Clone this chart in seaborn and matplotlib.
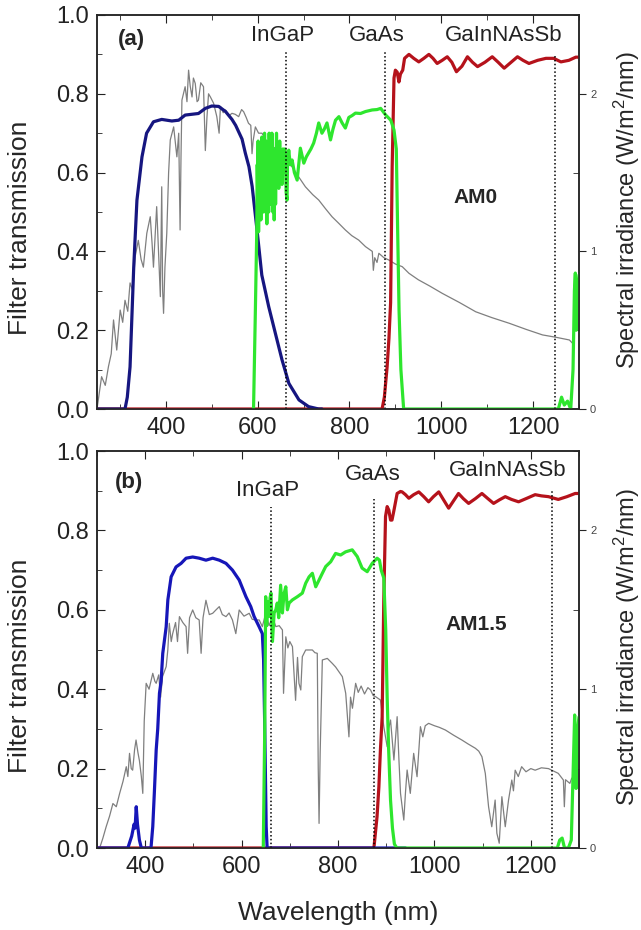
import matplotlib
matplotlib.use("Agg")
import matplotlib.pyplot as plt
import seaborn as sns
from matplotlib.ticker import MultipleLocator, FormatStrFormatter

sns.set_style("ticks")
plt.rcParams["font.family"] = ["Liberation Sans", "DejaVu Sans"]
plt.rcParams["mathtext.default"] = "regular"

# -------------------------
# PANEL (a) - AM0
# -------------------------

blue_a_wl = [250, 311, 316, 322, 330, 337, 348, 358, 373, 391,
             413, 428, 442, 471, 486, 500, 515, 530, 544, 552,
             566, 573, 581, 588, 599, 609, 624, 639, 653, 668,
             690, 711, 733, 740]
blue_a_t = [0, 0, 0.03, 0.107, 0.36, 0.53, 0.64, 0.70, 0.729, 0.735,
            0.731, 0.733, 0.746, 0.75, 0.763, 0.769, 0.768, 0.755, 0.735, 0.72,
            0.685, 0.65, 0.615, 0.565, 0.45, 0.34, 0.26, 0.19, 0.125, 0.065,
            0.023, 0.006, 0, 0]

green_a_wl = [591, 595, 598, 599, 600, 601, 602, 603, 604, 606,
              607, 609, 610, 612, 613, 615, 617, 618, 620, 622,
              624, 625, 627, 628, 630, 631, 633, 635, 636, 638,
              639, 641, 643, 644, 646, 648, 650, 652, 653, 655,
              657, 659, 660.5, 662, 664, 665, 667.7, 671, 675, 680,
              686, 693, 700.5, 706, 711, 716, 722, 728, 733, 740,
              745, 751, 758.7, 764, 769.6, 777, 784, 791, 798.6, 806,
              813, 824, 835, 849.5, 860, 868, 879, 890, 897, 902,
              905, 908, 912, 918, 1255, 1262, 1268, 1275, 1282, 1287,
              1290, 1292, 1294, 1296, 1300]
green_a_t = [0, 0.25, 0.45, 0.62, 0.55, 0.68, 0.45, 0.60, 0.50, 0.66,
             0.48, 0.69, 0.52, 0.66, 0.50, 0.70, 0.55, 0.68, 0.47, 0.65,
             0.50, 0.70, 0.52, 0.68, 0.55, 0.70, 0.50, 0.64, 0.48, 0.66,
             0.52, 0.70, 0.58, 0.67, 0.56, 0.68, 0.58, 0.64, 0.57, 0.66,
             0.60, 0.66, 0.63, 0.55, 0.53, 0.62, 0.657, 0.62, 0.632, 0.60,
             0.581, 0.662, 0.624, 0.64, 0.65, 0.66, 0.675, 0.70, 0.726, 0.70,
             0.71, 0.726, 0.683, 0.71, 0.733, 0.742, 0.726, 0.713, 0.74, 0.745,
             0.751, 0.75, 0.755, 0.759, 0.76, 0.763, 0.746, 0.733, 0.708, 0.66,
             0.45, 0.25, 0.10, 0.0, 0, 0.03, 0.01, 0.02, 0.0, 0.1,
             0.3, 0.345, 0.2, 0.3, 0.34]

red_a_wl = [250, 871, 876, 882, 886, 889.6, 893, 897, 900, 904,
            907.7, 911, 916, 920, 929.6, 940, 951, 962, 973, 982,
            991, 1002, 1013, 1023, 1033, 1045, 1057, 1068, 1079, 1095,
            1111, 1124, 1137, 1152, 1166, 1178, 1191, 1210, 1228, 1245,
            1260.6, 1278, 1293, 1300]
red_a_t = [0, 0, 0.03, 0.107, 0.18, 0.27, 0.615, 0.84, 0.86, 0.855,
           0.83, 0.85, 0.86, 0.89, 0.90, 0.89, 0.881, 0.89, 0.90, 0.89,
           0.877, 0.885, 0.894, 0.88, 0.856, 0.87, 0.894, 0.88, 0.869, 0.88,
           0.894, 0.88, 0.865, 0.88, 0.894, 0.885, 0.877, 0.885, 0.89, 0.89,
           0.881, 0.885, 0.893, 0.893]

am0_wl = [250, 260, 268, 275, 281, 286, 293, 300.5, 306, 311,
          317, 322, 328, 333, 340, 346, 351, 358.5, 366, 370,
          373, 380, 384, 388, 391, 393, 395, 398, 402, 406,
          409.6, 417, 424, 428, 431, 433, 435, 442, 446, 449.5,
          453, 457, 460, 464, 468, 471, 476, 482, 486, 489.5,
          493, 497, 504, 511, 516, 519, 525, 530, 537, 544,
          551, 558.6, 565, 569.5, 575, 580, 585, 587.7, 590, 595,
          602, 609.5, 617, 624, 635, 646, 653, 656, 660.5, 667,
          675, 690, 704, 720, 733, 748, 762, 776, 791, 805,
          820, 835, 849.7, 852, 855, 860, 864, 875, 886, 900,
          915, 929.6, 950, 975, 1002, 1040, 1075, 1110, 1148, 1185,
          1220.6, 1250, 1279, 1286, 1290]
am0_irr = [0.0, 0.205, 0.15, 0.27, 0.35, 0.565, 0.374, 0.628, 0.55, 0.69,
           0.62, 0.80, 0.75, 0.966, 1.07, 0.95, 0.90, 1.115, 1.22, 1.05,
           0.90, 1.284, 1.0, 0.713, 1.41, 0.75, 0.607, 0.9, 1.115, 1.5,
           1.707, 1.79, 1.6, 1.75, 1.136, 1.6, 1.96, 2.045, 1.95, 2.15,
           2.05, 1.98, 2.1, 2.066, 1.95, 1.96, 2.07, 2.045, 1.64, 1.85,
           2.0, 1.98, 1.94, 1.855, 1.75, 1.92, 1.88, 1.897, 1.86, 1.876,
           1.87, 1.855, 1.9, 1.886, 1.85, 1.813, 1.8, 1.62, 1.7, 1.79,
           1.75, 1.75, 1.707, 1.686, 1.66, 1.643, 1.62, 1.5, 1.58, 1.56,
           1.537, 1.47, 1.41, 1.36, 1.326, 1.27, 1.22, 1.18, 1.136, 1.10,
           1.072, 1.03, 1.00, 0.88, 0.96, 0.93, 0.988, 0.96, 0.945, 0.92,
           0.903, 0.861, 0.82, 0.78, 0.734, 0.675, 0.617, 0.58, 0.544, 0.505,
           0.47, 0.455, 0.438, 0.417, 0.43]

junction_a_wl = [662, 877, 1248]
junction_a_top = [0.91, 0.91, 0.90]

# -------------------------
# PANEL (b) - AM1.5
# -------------------------

blue_b_wl = [300, 364, 372, 377, 379, 381.4, 384, 388, 392, 412,
             415.7, 419, 422.8, 426, 429.6, 433, 436.4, 443.5, 447, 453.8,
             464, 474.5, 484.8, 498.5, 512, 526, 540, 553.7, 567.6, 581,
             595, 609, 619, 626, 636.5, 643, 645.6, 648, 651, 653,
             940]
blue_b_t = [0, 0, 0.03, 0.06, 0.05, 0.104, 0.06, 0.02, 0, 0,
            0.054, 0.14, 0.247, 0.30, 0.39, 0.42, 0.49, 0.557, 0.625, 0.683,
            0.708, 0.717, 0.73, 0.733, 0.73, 0.725, 0.73, 0.725, 0.717, 0.70,
            0.675, 0.633, 0.608, 0.583, 0.557, 0.54, 0.474, 0.306, 0.054, 0,
            0]

green_b_wl = [645, 648, 650, 652, 655, 657, 659, 661, 664, 667.5,
              671, 674, 677, 681, 684.7, 688, 691.7, 695, 698.6, 705.5,
              715.7, 726, 733, 740, 746.8, 753.8, 760.7, 767.5, 774.5, 784.8,
              795, 805.5, 815.8, 829.5, 840, 850, 860.6, 871, 881, 886,
              889.6, 895, 899, 902, 905, 909, 913, 917, 922, 1255,
              1260, 1265, 1270, 1278, 1284, 1288, 1291, 1294, 1297, 1300]
green_b_t = [0, 0.3, 0.633, 0.56, 0.62, 0.583, 0.63, 0.642, 0.52, 0.592,
             0.60, 0.617, 0.58, 0.662, 0.592, 0.64, 0.658, 0.60, 0.617, 0.625,
             0.633, 0.642, 0.667, 0.683, 0.692, 0.658, 0.675, 0.692, 0.709, 0.721,
             0.742, 0.738, 0.746, 0.751, 0.734, 0.705, 0.696, 0.717, 0.73, 0.725,
             0.70, 0.68, 0.55, 0.38, 0.25, 0.12, 0.05, 0.01, 0, 0,
             0.02, 0.025, 0.0, 0.0, 0.02, 0.2, 0.335, 0.15, 0.3, 0.33]

red_b_wl = [300, 871, 874.5, 881, 884.8, 888, 891.6, 895, 898.6, 902,
            905.5, 909, 912, 916, 922.7, 929.6, 933, 940, 947, 957,
            967.6, 978, 988, 998, 1009, 1019, 1029.6, 1040, 1050, 1060,
            1071, 1085, 1098.6, 1111, 1122.8, 1135, 1147, 1160, 1174.6, 1192,
            1209, 1222, 1236.6, 1257, 1275, 1292, 1300]
red_b_t = [0, 0, 0, 0.079, 0.154, 0.247, 0.33, 0.625, 0.835, 0.86,
           0.851, 0.826, 0.826, 0.85, 0.893, 0.898, 0.897, 0.89, 0.881, 0.89,
           0.897, 0.885, 0.872, 0.885, 0.897, 0.877, 0.856, 0.875, 0.893, 0.88,
           0.868, 0.88, 0.893, 0.88, 0.868, 0.877, 0.885, 0.878, 0.872, 0.881,
           0.89, 0.887, 0.885, 0.878, 0.885, 0.893, 0.893]

am15_wl = [305.5, 312, 319, 326, 333, 340, 347, 354, 360.7, 364,
           367.5, 371, 374, 378, 381, 385, 388, 392, 395, 398,
           402, 408, 415.7, 420, 422.8, 428, 432, 436, 443.5, 447,
           450, 454, 457, 463, 467, 471, 478, 484.8, 488, 492,
           498.5, 505, 512, 516, 520, 526, 533, 540, 547, 553.7,
           560, 567.6, 574, 581, 588, 595, 605, 615.8, 622, 629.7,
           636.5, 643, 650, 657, 664, 671, 678, 684.7, 687, 691.7,
           696, 700, 705.5, 712, 716, 719, 722.8, 726, 733, 740,
           746.8, 752, 757, 759, 760.7, 763, 767.5, 777.8, 788, 795,
           802, 809, 816, 819, 822.7, 826, 830, 836.6, 842, 848,
           855, 862, 867.6, 873, 878, 888, 895, 902, 905, 909,
           916, 922.7, 926.5, 929.7, 936.5, 940, 943.4, 950, 957, 964,
           971, 976, 981, 988, 1000, 1010, 1022.8, 1040, 1057, 1070,
           1085, 1092, 1098.6, 1105.6, 1112.4, 1119, 1126, 1129.6, 1134.5, 1140,
           1147, 1153.8, 1160.6, 1164, 1167.6, 1174, 1181, 1190, 1200, 1209,
           1222, 1236.6, 1250, 1257, 1267.6, 1269.6, 1272, 1281, 1285, 1288,
           1292]
am15_irr = [0.0, 0.06, 0.134, 0.2, 0.28, 0.26, 0.344, 0.42, 0.512, 0.45,
            0.596, 0.5, 0.49, 0.62, 0.68, 0.6, 0.55, 0.45, 0.344, 0.8,
            1.037, 1.0, 1.10, 1.05, 1.037, 1.09, 0.95, 1.08, 1.142, 1.25,
            1.415, 1.3, 1.35, 1.42, 1.3, 1.457, 1.42, 1.394, 1.226, 1.45,
            1.499, 1.45, 1.436, 1.226, 1.45, 1.56, 1.47, 1.478, 1.5, 1.52,
            1.47, 1.457, 1.48, 1.436, 1.35, 1.499, 1.46, 1.478, 1.44, 1.436,
            1.436, 1.394, 1.478, 1.40, 1.457, 1.394, 1.40, 1.373, 0.974, 1.33,
            1.26, 1.30, 1.268, 0.93, 1.20, 1.037, 0.995, 1.205, 1.247, 1.247,
            1.247, 1.23, 1.226, 0.5, 0.155, 0.6, 1.184, 1.194, 1.163, 1.14,
            1.11, 1.079, 0.974, 0.848, 0.70, 0.95, 0.88, 1.037, 0.98, 1.02,
            0.97, 1.01, 0.995, 0.96, 0.953, 0.932, 0.764, 0.638, 0.75, 0.806,
            0.554, 0.827, 0.55, 0.344, 0.176, 0.35, 0.491, 0.344, 0.596, 0.449,
            0.764, 0.70, 0.77, 0.785, 0.77, 0.76, 0.743, 0.71, 0.68, 0.655,
            0.628, 0.61, 0.575, 0.47, 0.26, 0.134, 0.302, 0.093, 0.03, 0.323,
            0.134, 0.302, 0.428, 0.36, 0.49, 0.45, 0.512, 0.48, 0.50, 0.49,
            0.505, 0.50, 0.48, 0.47, 0.428, 0.26, 0.43, 0.407, 0.44, 0.428,
            0.40]

junction_b_wl = [661, 874, 1245]
junction_b_top = [0.86, 0.88, 0.905]

# -------------------------
# STYLE
# -------------------------

blue_a_col = "#161680"
blue_b_col = "#1616b8"
green_col = "#2ee62e"
red_col = "#b5121b"
gray_col = "#7f7f7f"

fig = plt.figure(figsize=(6.41, 9.30), dpi=100)
ax_a = fig.add_axes([97 / 641, 1 - 409 / 930, 482 / 641, 394 / 930])
ax_b = fig.add_axes([97 / 641, 1 - 848 / 930, 482 / 641, 397 / 930])


def draw_panel(ax, xlim, spec_wl, spec_irr, curves, junc_wl, junc_top,
               letter, letter_pos, names, name_pos, am, am_pos):
    ax2 = ax.twinx()
    ax.set_zorder(ax2.get_zorder() + 1)
    ax.patch.set_visible(False)

    sns.lineplot(x=spec_wl, y=spec_irr, ax=ax2, color=gray_col, lw=0.9,
                 estimator=None, sort=False)
    for wl, t, col in curves:
        sns.lineplot(x=wl, y=t, ax=ax, color=col, lw=2.3,
                     estimator=None, sort=False)
    ax.vlines(junc_wl, 0, junc_top, colors="black", linestyles=(0, (1, 1.5)), lw=1.1)

    ax.set_xlim(*xlim)
    ax.set_ylim(0, 1.0)
    ax2.set_ylim(0, 2.5)
    ax.xaxis.set_major_locator(MultipleLocator(200))
    ax.xaxis.set_minor_locator(MultipleLocator(100))
    ax.yaxis.set_major_locator(MultipleLocator(0.2))
    ax.yaxis.set_minor_locator(MultipleLocator(0.1))
    ax2.yaxis.set_major_locator(MultipleLocator(1))
    ax2.yaxis.set_minor_locator(MultipleLocator(0.5))
    ax2.yaxis.set_major_formatter(FormatStrFormatter("%d"))

    ax.tick_params(which="both", direction="in", top=True, labelsize=17, pad=6,
                   colors="#222222")
    ax.tick_params(which="major", length=6)
    ax.tick_params(which="minor", length=3.5)
    ax2.tick_params(which="major", direction="out", length=5, labelsize=8,
                    labelcolor="#444444", pad=3)
    ax2.tick_params(which="minor", direction="in", length=4)

    ax.set_xlabel("")
    ax.set_ylabel("Filter transmission", fontsize=19)
    ax.yaxis.set_label_coords(-0.135, 0.46)
    ax2.set_ylabel("Spectral irradiance (W/m$^{2}$/nm)", fontsize=17)
    ax2.yaxis.set_label_coords(1.068, 0.505)

    ax.text(letter_pos[0], letter_pos[1], letter, transform=ax.transAxes,
            fontsize=16, fontweight="bold", ha="center", va="center")
    for name, pos in zip(names, name_pos):
        ax.text(pos[0], pos[1], name, transform=ax.transAxes, fontsize=16,
                ha="center", va="center", color="#222222")
    ax.text(am_pos[0], am_pos[1], am, transform=ax.transAxes, fontsize=15,
            fontweight="bold", ha="center", va="center")
    for sp in ["left", "right", "top", "bottom"]:
        ax.spines[sp].set_linewidth(1.1)
        ax2.spines[sp].set_linewidth(1.1)


draw_panel(ax_a, (250, 1300), am0_wl, am0_irr,
           [(red_a_wl, red_a_t, red_col), (blue_a_wl, blue_a_t, blue_a_col),
            (green_a_wl, green_a_t, green_col)],
           junction_a_wl, junction_a_top,
           "(a)", (0.072, 0.937),
           ["InGaP", "GaAs", "GaInNAsSb"],
           [(0.386, 0.947), (0.58, 0.947), (0.844, 0.947)],
           "AM0", (0.786, 0.538))

draw_panel(ax_b, (300, 1300), am15_wl, am15_irr,
           [(red_b_wl, red_b_t, red_col), (blue_b_wl, blue_b_t, blue_b_col),
            (green_b_wl, green_b_t, green_col)],
           junction_b_wl, junction_b_top,
           "(b)", (0.066, 0.921),
           ["InGaP", "GaAs", "GaInNAsSb"],
           [(0.354, 0.90), (0.572, 0.94), (0.852, 0.952)],
           "AM1.5", (0.786, 0.562))

fig.text(338 / 641, 1 - 913 / 930, "Wavelength (nm)", fontsize=19,
         ha="center", va="center")

fig.savefig("out.png", dpi=100)
